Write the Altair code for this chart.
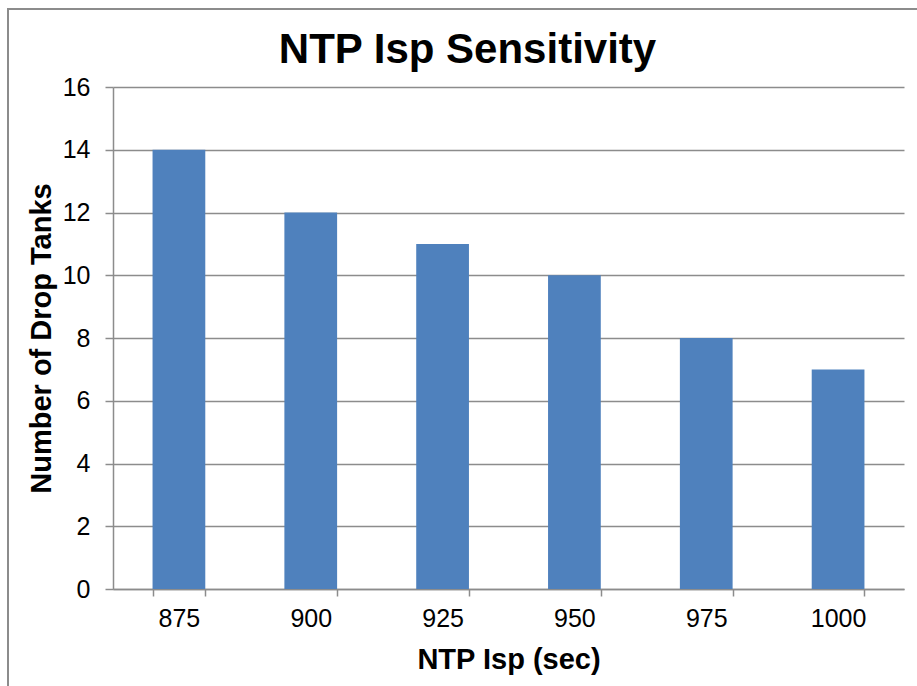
import altair as alt
import pandas as pd

isp = ["875", "900", "925", "950", "975", "1000"]
tanks = [14, 12, 11, 10, 8, 7]
chart_title = ["NTP Isp Sensitivity"]

df = pd.DataFrame({"isp": isp, "tanks": tanks})
tdf = pd.DataFrame({"t": chart_title})

FONT = "Liberation Sans"
GRID = "#8c8c8c"

bars = alt.Chart(df).mark_bar(color="#4F81BD").encode(
    x=alt.X(
        "isp:N",
        sort=isp,
        title="NTP Isp (sec)",
        scale=alt.Scale(paddingInner=0.6, paddingOuter=0.3),
        axis=alt.Axis(
            labelAngle=0,
            tickBand="extent",
            tickSize=7,
            tickColor=GRID,
            domainColor=GRID,
            labelFontSize=25,
            labelPadding=10,
            titleFontSize=29,
            titlePadding=14,
            grid=False,
        ),
    ),
    y=alt.Y(
        "tanks:Q",
        title="Number of Drop Tanks",
        scale=alt.Scale(domain=[0, 16], nice=False),
        axis=alt.Axis(
            values=[0, 2, 4, 6, 8, 10, 12, 14, 16],
            tickSize=8,
            tickColor=GRID,
            domainColor=GRID,
            gridColor=GRID,
            labelFontSize=25,
            labelPadding=15,
            titleFontSize=29,
            titlePadding=6,
        ),
    ),
)

frame = alt.Chart(tdf).mark_rect(
    fill=None, stroke=GRID, strokeWidth=2
).encode(
    x=alt.value(-105), x2=alt.value(812), y=alt.value(-78), y2=alt.value(606)
)

title = alt.Chart(tdf).mark_text(
    font=FONT, fontSize=42, fontWeight="bold", color="black",
    align="center", baseline="alphabetic",
).encode(
    text="t:N", x=alt.value(354.5), y=alt.value(-24)
)

chart = (
    alt.layer(frame, bars, title)
    .properties(
        width=791,
        height=502,
        autosize=alt.AutoSizeParams(type="none"),
        padding={"left": 113, "top": 87, "right": 13, "bottom": 97},
    )
    .configure(background="white", font=FONT)
    .configure_axis(
        labelFont=FONT,
        titleFont=FONT,
        labelColor="black",
        titleColor="black",
        titleFontWeight="bold",
        domainWidth=1.5,
        tickWidth=1.5,
        gridWidth=1.5,
    )
    .configure_view(stroke=None)
)

chart.save("out.html", embed_options={"renderer": "svg", "actions": False})
